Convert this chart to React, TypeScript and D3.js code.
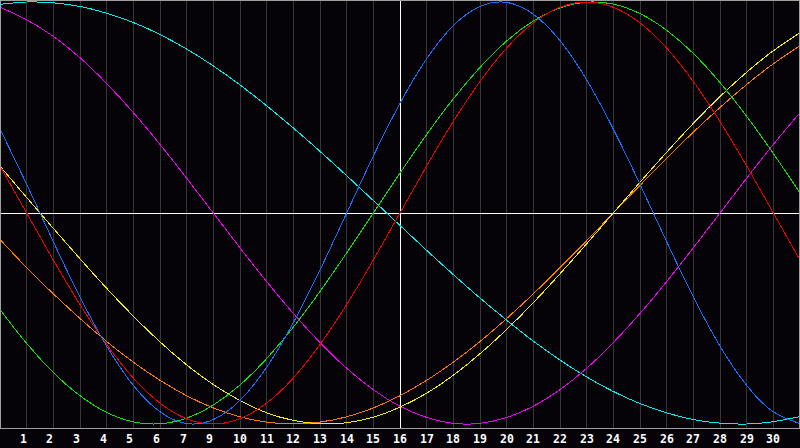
import {line, curveNatural, scaleLinear, range} from "d3";

// day labels under the grid lines (the source skips "8")
const dayLabels = ["1", "2", "3", "4", "5", "6", "7", "9", "10", "11", "12", "13", "14", "15", "16",
    "17", "18", "19", "20", "21", "22", "23", "24", "25", "26", "27", "28", "29", "30"];

// one value per day (0..30), -1 = bottom, 1 = top
const physical = [0.398, 0.136, -0.136, -0.398, -0.631, -0.817, -0.942, -0.998, -0.979, -0.888, -0.731,
    -0.520, -0.270, 0, 0.270, 0.520, 0.731, 0.888, 0.979, 0.998, 0.942, 0.817, 0.631, 0.398, 0.136,
    -0.136, -0.398, -0.631, -0.817, -0.942, -0.998];
const emotional = [0.223, 0, -0.223, -0.434, -0.623, -0.782, -0.901, -0.975, -1, -0.975, -0.901,
    -0.782, -0.623, -0.434, -0.223, 0, 0.223, 0.434, 0.623, 0.782, 0.901, 0.975, 1, 0.975, 0.901,
    0.782, 0.623, 0.434, 0.223, 0, -0.223];
const intellectual = [-0.458, -0.618, -0.756, -0.866, -0.945, -0.990, -0.999, -0.972, -0.910, -0.815,
    -0.690, -0.541, -0.372, -0.189, 0, 0.189, 0.372, 0.541, 0.690, 0.815, 0.910, 0.972, 0.999, 0.990,
    0.945, 0.866, 0.756, 0.618, 0.458, 0.282, 0.095];
const intuitive = [0.975, 0.916, 0.837, 0.736, 0.614, 0.476, 0.325, 0.165, 0, -0.165, -0.325, -0.476,
    -0.614, -0.736, -0.837, -0.916, -0.969, -0.997, -0.997, -0.969, -0.916, -0.837, -0.736, -0.614,
    -0.476, -0.325, -0.165, 0, 0.165, 0.325, 0.476];
const aesthetic = [0.222, 0.073, -0.073, -0.217, -0.357, -0.489, -0.611, -0.720, -0.813, -0.889, -0.947,
    -0.983, -0.999, -0.994, -0.968, -0.920, -0.854, -0.769, -0.667, -0.552, -0.425, -0.288, -0.146, 0,
    0.146, 0.288, 0.425, 0.552, 0.667, 0.769, 0.854];
const awareness = [-0.125, -0.259, -0.383, -0.500, -0.609, -0.707, -0.793, -0.866, -0.924, -0.966, -0.991,
    -1, -0.991, -0.966, -0.924, -0.866, -0.793, -0.707, -0.609, -0.500, -0.383, -0.259, -0.131, 0,
    0.131, 0.259, 0.383, 0.500, 0.609, 0.707, 0.793];
const spiritual = [0.989, 1.000, 0.996, 0.979, 0.947, 0.903, 0.846, 0.777, 0.697, 0.607, 0.508, 0.403,
    0.292, 0.177, 0.059, -0.059, -0.177, -0.292, -0.403, -0.508, -0.607, -0.697, -0.777, -0.846, -0.903,
    -0.947, -0.979, -0.996, -1.000, -0.989, -0.965];

const series = [
    {name: "spiritual", color: "#00f0f0", values: spiritual},
    {name: "intuitive", color: "#f000f0", values: intuitive},
    {name: "awareness", color: "#ff7800", values: awareness},
    {name: "aesthetic", color: "#f0f000", values: aesthetic},
    {name: "intellectual", color: "#10e010", values: intellectual},
    {name: "emotional", color: "#f00000", values: emotional},
    {name: "physical", color: "#1870ff", values: physical},
];

const width = 800;
const height = 448;
const plotBottom = 428;

export default function App() {
    const x = scaleLinear().domain([0, 30]).range([0, width]);
    const y = scaleLinear().domain([-1, 1]).range([424, 2]);
    const path = line<number>()
        .x((_, i) => x(i))
        .y(v => y(v))
        .curve(curveNatural);
    const gridDays = range(1, 30);
    const midY = Math.round(y(0)) + 0.5;
    const midX = Math.floor(x(15)) + 0.5;

    return <svg width={width} height={height} style={{position: "fixed", left: 0, top: 0, background: "#050308"}}>
        <rect x={0} y={0} width={width} height={height} fill="#050308"/>
        {gridDays.map(d => (
            <line key={`g${d}`} x1={Math.floor(x(d)) + 0.5} x2={Math.floor(x(d)) + 0.5} y1={0} y2={plotBottom}
                  stroke="#363636" strokeWidth={1} shapeRendering="crispEdges"/>
        ))}
        <line x1={0} x2={width} y1={midY} y2={midY} stroke="#ffffff" strokeWidth={1} shapeRendering="crispEdges"/>
        <line x1={midX} x2={midX} y1={0} y2={plotBottom} stroke="#ffffff" strokeWidth={1} shapeRendering="crispEdges"/>
        {series.map(s => (
            <path key={s.name} d={path(s.values) ?? ""} fill="none" stroke={s.color} strokeWidth={1}
                  shapeRendering="crispEdges"/>
        ))}
        <rect x={0.5} y={0.5} width={width - 1} height={plotBottom} fill="none" stroke="#a0a0a0" strokeWidth={1}
              shapeRendering="crispEdges"/>
        {gridDays.map((d, i) => (
            <text key={`t${d}`} x={Math.floor(x(d - 0.25))} y={443} fill="#ffffff"
                  fontFamily="'DejaVu Sans Mono', monospace" fontWeight="bold" fontSize={11.5}>
                {dayLabels[i]}
            </text>
        ))}
    </svg>;
}
